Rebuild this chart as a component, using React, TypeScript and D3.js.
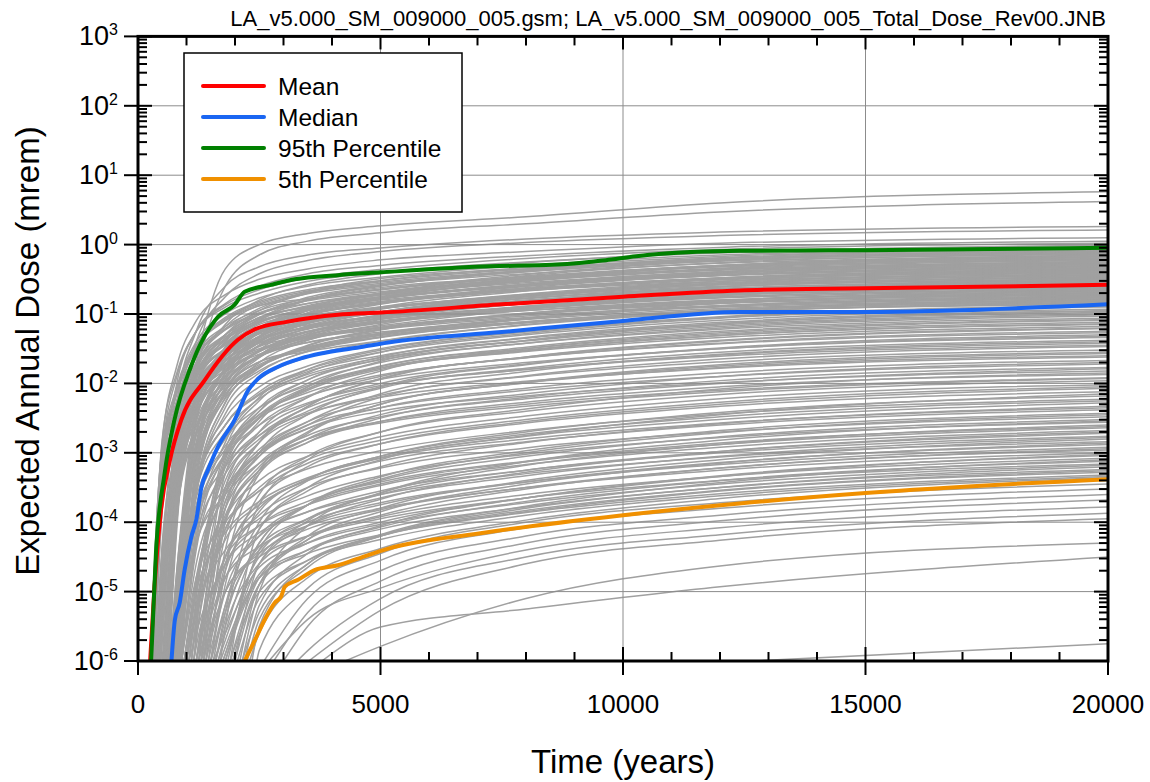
import React from "react";
import * as d3 from "d3";

const width = 1150;
const height = 782;
const plot = { left: 138, right: 1108, top: 36.4, bottom: 661 };
const font = "'Liberation Sans', Arial, sans-serif";

const titleText = "LA_v5.000_SM_009000_005.gsm; LA_v5.000_SM_009000_005_Total_Dose_Rev00.JNB";

// years at which every gray realization is read (log10 dose, mrem); first entry of a row is the onset year (1e-6)
const GRID_YEARS = [500, 800, 1200, 1800, 2500, 3500, 5000, 8000, 12000, 20000];

type Row = (number | null)[];

const grayTop: Row[] = [
  [520, null, -3.3, -1.7, -0.35, 0.0, 0.16, 0.27, 0.4, 0.6, 0.76],
  [600, null, -3.6, -1.9, -0.6, -0.15, 0.05, 0.17, 0.3, 0.47, 0.62],
  [380, -4.5, -2.3, -1.25, -0.6, -0.32, -0.15, -0.05, 0.08, 0.18, 0.26],
  [450, -5.3, -2.5, -1.4, -0.75, -0.42, -0.23, -0.1, 0.03, 0.13, 0.21],
  [260, -2.85, -1.75, -1.1, -0.72, -0.5, -0.35, -0.22, -0.1, 0.02, 0.1],
  [330, -3.5, -2.0, -1.25, -0.85, -0.6, -0.42, -0.3, -0.16, -0.04, 0.05],
  [280, -3.0, -1.9, -1.25, -0.87, -0.65, -0.48, -0.36, -0.2, -0.07, 0.02],
  [600, null, -3.4, -1.85, -1.15, -0.8, -0.58, -0.42, -0.26, -0.11, -0.01],
  [250, -2.8, -1.85, -1.25, -0.9, -0.7, -0.53, -0.4, -0.25, -0.12, -0.03],
];

const grayUpper: Row[] = [
  [270, -3.0, -2.05, -1.4, -1.0, -0.77, -0.6, -0.47, -0.3, -0.15, -0.05],
  [540, null, -3.3, -1.95, -1.3, -0.95, -0.7, -0.52, -0.33, -0.17, -0.06],
  [650, null, -4.7, -2.37, -1.47, -1.07, -0.79, -0.59, -0.37, -0.19, -0.07],
  [400, -4.9, -2.7, -1.7, -1.18, -0.88, -0.78, -0.65, -0.43, -0.23, -0.08],
  [690, null, -5.0, -2.4, -1.5, -1.1, -0.8, -0.6, -0.38, -0.2, -0.09],
  [300, -3.2, -2.1, -1.45, -1.05, -0.82, -0.65, -0.52, -0.35, -0.2, -0.1],
  [500, null, -3.2, -2.01, -1.36, -1.01, -0.76, -0.59, -0.39, -0.23, -0.11],
  [450, -5.4, -2.8, -1.75, -1.22, -0.92, -0.68, -0.49, -0.35, -0.22, -0.12],
  [290, -3.1, -2.12, -1.47, -1.07, -0.84, -0.67, -0.54, -0.37, -0.22, -0.12],
  [820, null, null, -2.9, -1.75, -1.25, -0.92, -0.7, -0.45, -0.26, -0.13],
  [320, -3.4, -2.14, -1.49, -1.09, -0.86, -0.69, -0.56, -0.39, -0.24, -0.14],
  [580, null, -3.6, -2.05, -1.4, -1.05, -0.9, -0.75, -0.51, -0.31, -0.15],
  [260, -3.0, -2.15, -1.5, -1.1, -0.88, -0.71, -0.58, -0.42, -0.27, -0.16],
  [790, null, null, -2.97, -1.77, -1.27, -0.95, -0.72, -0.49, -0.3, -0.17],
  [720, null, -5.3, -2.5, -1.6, -1.2, -0.9, -0.7, -0.48, -0.3, -0.18],
  [380, -4.6, -2.8, -1.8, -1.3, -1.0, -0.8, -0.64, -0.46, -0.3, -0.19],
  [470, -5.7, -2.8, -1.8, -1.3, -1.0, -0.85, -0.72, -0.5, -0.32, -0.2],
  [860, null, null, -3.1, -1.85, -1.32, -0.98, -0.77, -0.52, -0.34, -0.21],
  [310, -3.3, -2.25, -1.58, -1.18, -0.95, -0.78, -0.65, -0.47, -0.32, -0.22],
  [760, null, -5.8, -2.53, -1.63, -1.23, -0.95, -0.75, -0.53, -0.35, -0.23],
  [520, null, -3.4, -2.15, -1.5, -1.15, -1.0, -0.84, -0.6, -0.4, -0.24],
  [430, -5.2, -2.85, -1.85, -1.35, -1.05, -0.85, -0.7, -0.52, -0.37, -0.25],
  [250, -2.9, -2.26, -1.61, -1.21, -0.98, -0.81, -0.68, -0.51, -0.36, -0.26],
  [660, null, -4.8, -2.55, -1.67, -1.27, -0.99, -0.79, -0.57, -0.39, -0.27],
  [280, -3.2, -2.3, -1.63, -1.23, -1.0, -0.8, -0.62, -0.48, -0.36, -0.28],
  [430, -5.1, -2.88, -1.88, -1.38, -1.08, -0.88, -0.73, -0.55, -0.39, -0.28],
  [640, null, -4.1, -2.19, -1.54, -1.19, -0.94, -0.77, -0.57, -0.41, -0.29],
  [600, null, -3.7, -2.2, -1.55, -1.2, -0.95, -0.78, -0.58, -0.42, -0.3],
  [800, null, null, -3.0, -1.9, -1.4, -1.08, -0.86, -0.62, -0.44, -0.31],
  [400, -4.9, -2.92, -1.92, -1.42, -1.12, -0.92, -0.77, -0.59, -0.43, -0.32],
  [360, -4.3, -2.9, -1.9, -1.42, -1.13, -0.93, -0.78, -0.6, -0.44, -0.33],
  [330, -3.6, -2.35, -1.7, -1.3, -1.06, -0.9, -0.76, -0.59, -0.45, -0.34],
  [900, null, null, -3.3, -1.95, -1.45, -1.13, -0.9, -0.67, -0.48, -0.35],
  [740, null, -5.5, -2.7, -1.78, -1.37, -1.19, -1.01, -0.74, -0.53, -0.36],
  [530, null, -3.4, -2.26, -1.61, -1.26, -1.01, -0.84, -0.64, -0.48, -0.36],
  [560, null, -3.5, -2.27, -1.62, -1.27, -1.02, -0.85, -0.65, -0.49, -0.37],
  [280, -3.2, -2.38, -1.73, -1.33, -1.1, -0.93, -0.8, -0.63, -0.48, -0.38],
  [470, -5.7, -3.05, -2.0, -1.5, -1.2, -1.0, -0.85, -0.66, -0.51, -0.39],
  [290, -3.4, -2.42, -1.76, -1.36, -1.12, -0.95, -0.82, -0.65, -0.5, -0.4],
  [700, null, -5.1, -2.71, -1.81, -1.41, -1.13, -0.93, -0.71, -0.53, -0.41],
  [870, null, null, -3.2, -2.05, -1.52, -1.2, -0.97, -0.74, -0.55, -0.42],
  [510, null, -3.5, -2.33, -1.68, -1.33, -1.0, -0.83, -0.66, -0.53, -0.43],
  [580, null, -3.7, -2.34, -1.69, -1.34, -1.09, -0.92, -0.72, -0.56, -0.44],
  [680, null, -4.9, -2.75, -1.85, -1.45, -1.17, -0.97, -0.75, -0.57, -0.45],
  [410, -5.1, -3.06, -2.06, -1.56, -1.26, -1.16, -1.03, -0.81, -0.61, -0.46],
  [360, -4.4, -3.07, -2.07, -1.57, -1.27, -1.07, -0.92, -0.74, -0.58, -0.47],
  [320, -3.6, -2.5, -1.83, -1.43, -1.2, -1.03, -0.9, -0.73, -0.58, -0.48],
  [620, null, -4.0, -2.39, -1.74, -1.39, -1.14, -0.97, -0.77, -0.61, -0.49],
  [340, -3.8, -2.5, -1.85, -1.45, -1.22, -1.05, -0.92, -0.75, -0.6, -0.5],
  [840, null, null, -3.3, -2.1, -1.6, -1.28, -1.05, -0.82, -0.64, -0.51],
  [440, -5.4, -3.1, -2.12, -1.62, -1.32, -1.12, -0.97, -0.78, -0.63, -0.52],
  [860, null, null, -3.4, -2.13, -1.63, -1.31, -1.08, -0.85, -0.66, -0.53],
  [700, null, -5.1, -2.84, -1.94, -1.54, -1.26, -1.06, -0.84, -0.66, -0.54],
  [270, -3.2, -2.55, -1.9, -1.5, -1.27, -1.1, -0.97, -0.8, -0.65, -0.55],
  [520, null, -3.4, -2.46, -1.81, -1.46, -1.21, -1.04, -0.84, -0.68, -0.56],
  [590, null, -3.8, -2.47, -1.82, -1.47, -1.32, -1.17, -0.93, -0.73, -0.57],
  [300, -3.5, -2.57, -1.92, -1.52, -1.29, -1.12, -0.99, -0.82, -0.67, -0.57],
  [390, -4.8, -3.18, -2.18, -1.68, -1.38, -1.18, -1.03, -0.85, -0.69, -0.58],
  [650, null, -4.7, -2.89, -1.99, -1.59, -1.31, -1.11, -0.89, -0.71, -0.59],
  [810, null, null, -3.3, -2.2, -1.7, -1.38, -1.15, -0.92, -0.73, -0.6],
  [750, null, -5.7, -2.91, -2.01, -1.61, -1.33, -1.13, -0.91, -0.73, -0.61],
  [450, -5.4, -3.22, -2.22, -1.72, -1.42, -1.22, -1.07, -0.89, -0.73, -0.62],
  [300, -3.4, -2.63, -1.98, -1.58, -1.35, -1.12, -0.97, -0.83, -0.71, -0.63],
  [530, null, -3.5, -2.54, -1.89, -1.54, -1.29, -1.12, -0.92, -0.76, -0.64],
  [260, -3.0, -2.65, -2.0, -1.6, -1.37, -1.2, -1.07, -0.9, -0.75, -0.65],
  [460, -5.6, -3.26, -2.26, -1.76, -1.46, -1.26, -1.11, -0.93, -0.77, -0.66],
  [850, null, null, -3.5, -2.27, -1.77, -1.45, -1.22, -0.99, -0.8, -0.67],
  [820, null, null, -3.5, -2.28, -1.78, -1.46, -1.23, -1.0, -0.81, -0.68],
  [670, null, -4.8, -2.99, -2.09, -1.69, -1.51, -1.33, -1.07, -0.85, -0.69],
  [340, -3.8, -2.7, -2.05, -1.65, -1.42, -1.25, -1.12, -0.95, -0.8, -0.7],
  [600, null, -3.9, -2.61, -1.96, -1.61, -1.36, -1.19, -0.99, -0.83, -0.71],
  [570, null, -3.7, -2.62, -1.97, -1.62, -1.37, -1.2, -1.0, -0.84, -0.72],
  [420, -5.2, -3.33, -2.33, -1.83, -1.53, -1.25, -1.1, -0.95, -0.82, -0.73],
  [380, -4.6, -3.34, -2.34, -1.84, -1.54, -1.34, -1.19, -1.01, -0.85, -0.74],
  [880, null, null, -3.6, -2.35, -1.85, -1.53, -1.3, -1.07, -0.88, -0.75],
  [710, null, -5.2, -3.06, -2.16, -1.76, -1.48, -1.28, -1.06, -0.88, -0.76],
  [690, null, -5.0, -3.07, -2.17, -1.77, -1.49, -1.29, -1.07, -0.89, -0.77],
  [310, -3.6, -2.78, -2.13, -1.73, -1.5, -1.33, -1.2, -1.03, -0.88, -0.78],
  [610, null, -3.9, -2.69, -2.04, -1.69, -1.54, -1.39, -1.15, -0.95, -0.79],
  [330, -3.7, -2.8, -2.15, -1.75, -1.52, -1.35, -1.22, -1.05, -0.9, -0.8],
  [370, -4.5, -3.41, -2.41, -1.91, -1.61, -1.41, -1.26, -1.08, -0.92, -0.81],
  [730, null, -5.4, -3.12, -2.22, -1.82, -1.54, -1.34, -1.12, -0.94, -0.82],
  [540, null, -3.5, -2.73, -2.08, -1.73, -1.48, -1.31, -1.11, -0.95, -0.83],
  [830, null, null, -3.6, -2.44, -1.94, -1.62, -1.39, -1.16, -0.97, -0.84],
  [550, null, -3.6, -2.75, -2.1, -1.75, -1.5, -1.33, -1.13, -0.97, -0.85],
  [290, -3.5, -2.86, -2.21, -1.81, -1.58, -1.41, -1.28, -1.11, -0.96, -0.86],
];

const grayMiddle: Row[] = [
  [640, null, -5.2, -3.4, -2.5, -2.05, -1.75, -1.5, -1.25, -1.04, -0.88],
  [900, null, null, -4.2, -2.85, -2.2, -1.8, -1.52, -1.26, -1.05, -0.89],
  [950, null, null, -4.9, -2.95, -2.25, -1.85, -1.55, -1.28, -1.06, -0.9],
  [760, null, -5.6, -3.5, -2.6, -2.12, -1.8, -1.55, -1.3, -1.09, -0.93],
  [1150, null, null, -5.6, -3.1, -2.4, -1.95, -1.62, -1.34, -1.12, -0.95],
  [1250, null, null, null, -3.3, -2.55, -2.05, -1.68, -1.38, -1.14, -0.96],
  [680, null, -5.4, -3.45, -2.6, -2.15, -1.83, -1.6, -1.35, -1.14, -0.98],
  [880, null, null, -4.3, -3.0, -2.35, -1.95, -1.65, -1.38, -1.16, -1.0],
  [700, null, -5.4, -3.45, -2.6, -2.17, -1.87, -1.63, -1.39, -1.18, -1.01],
  [1050, null, null, -5.1, -3.05, -2.4, -2.0, -1.7, -1.42, -1.2, -1.03],
  [720, null, -5.5, -3.55, -2.7, -2.22, -1.9, -1.66, -1.42, -1.22, -1.06],
  [1100, null, null, -5.4, -3.2, -2.5, -2.08, -1.76, -1.48, -1.25, -1.08],
  [1300, null, null, null, -3.5, -2.7, -2.2, -1.82, -1.5, -1.27, -1.09],
  [820, null, null, -4.0, -3.0, -2.45, -2.05, -1.75, -1.5, -1.29, -1.12],
  [850, null, null, -4.1, -3.05, -2.48, -2.08, -1.78, -1.52, -1.31, -1.14],
  [980, null, null, -5.0, -3.15, -2.5, -2.1, -1.8, -1.53, -1.31, -1.15],
  [620, null, -5.0, -3.65, -2.8, -2.35, -2.03, -1.78, -1.54, -1.34, -1.18],
  [1350, null, null, null, -3.8, -2.85, -2.33, -1.94, -1.62, -1.38, -1.2],
  [1200, null, null, null, -3.6, -2.85, -2.33, -1.93, -1.62, -1.39, -1.21],
  [900, null, null, -4.4, -3.2, -2.6, -2.2, -1.9, -1.63, -1.42, -1.25],
  [650, null, -5.2, -3.75, -2.9, -2.45, -2.13, -1.88, -1.63, -1.43, -1.27],
  [1400, null, null, null, -4.0, -3.0, -2.45, -2.05, -1.73, -1.49, -1.3],
  [1000, null, null, -4.9, -3.3, -2.7, -2.3, -2.0, -1.72, -1.5, -1.32],
  [750, null, -5.7, -3.8, -2.95, -2.5, -2.18, -1.94, -1.7, -1.5, -1.34],
  [1100, null, null, -5.5, -3.4, -2.8, -2.4, -2.07, -1.78, -1.55, -1.38],
  [1200, null, null, null, -3.7, -3.0, -2.55, -2.15, -1.83, -1.58, -1.4],
  [850, null, null, -4.2, -3.3, -2.75, -2.35, -2.05, -1.8, -1.59, -1.42],
  [780, null, -5.9, -3.9, -3.05, -2.6, -2.28, -2.03, -1.8, -1.61, -1.45],
  [1250, null, null, null, -3.8, -3.05, -2.6, -2.2, -1.89, -1.65, -1.47],
  [1000, null, null, -5.0, -3.5, -2.85, -2.45, -2.17, -1.9, -1.69, -1.52],
  [1500, null, null, null, -4.7, -3.3, -2.72, -2.3, -1.98, -1.73, -1.55],
  [1450, null, null, null, -4.4, -3.25, -2.7, -2.3, -1.99, -1.75, -1.57],
  [900, null, null, -4.6, -3.55, -2.95, -2.55, -2.27, -1.99, -1.77, -1.6],
  [700, null, -5.4, -4.0, -3.2, -2.75, -2.43, -2.2, -1.97, -1.78, -1.62],
  [1150, null, null, -5.7, -3.7, -3.05, -2.65, -2.35, -2.07, -1.85, -1.67],
  [1300, null, null, null, -4.0, -3.25, -2.8, -2.45, -2.15, -1.9, -1.7],
  [950, null, null, -4.8, -3.6, -3.0, -2.6, -2.35, -2.1, -1.9, -1.72],
  [1350, null, null, null, -4.2, -3.3, -2.85, -2.5, -2.2, -1.96, -1.77],
  [1050, null, null, -5.2, -3.8, -3.15, -2.75, -2.48, -2.22, -2.0, -1.79],
  [800, null, null, -4.3, -3.5, -3.0, -2.65, -2.4, -2.18, -1.99, -1.82],
  [1600, null, null, null, -5.3, -3.75, -3.1, -2.7, -2.37, -2.08, -1.85],
  [1200, null, null, null, -3.95, -3.25, -2.85, -2.55, -2.27, -2.05, -1.87],
  [1050, null, null, -5.3, -3.9, -3.2, -2.8, -2.55, -2.3, -2.1, -1.92],
  [750, null, -5.7, -4.3, -3.6, -3.15, -2.8, -2.57, -2.33, -2.12, -1.93],
  [1500, null, null, null, -4.9, -3.6, -3.05, -2.7, -2.4, -2.16, -1.96],
];

const grayLower: Row[] = [
  [1000, null, null, -5.2, -3.95, -3.4, -3.05, -2.77, -2.47, -2.22, -2.02],
  [1200, null, null, null, -4.1, -3.5, -3.1, -2.82, -2.52, -2.27, -2.05],
  [1400, null, null, null, -4.6, -3.7, -3.2, -2.87, -2.55, -2.3, -2.07],
  [1150, null, null, -5.7, -4.1, -3.55, -3.15, -2.87, -2.57, -2.33, -2.12],
  [1900, null, null, null, null, -4.1, -3.5, -3.1, -2.75, -2.45, -2.15],
  [1700, null, null, null, -5.5, -4.0, -3.4, -3.05, -2.7, -2.42, -2.18],
  [900, null, null, -4.8, -4.0, -3.55, -3.23, -2.97, -2.68, -2.44, -2.23],
  [1350, null, null, null, -4.7, -3.85, -3.38, -3.05, -2.73, -2.48, -2.25],
  [1300, null, null, null, -4.5, -3.8, -3.38, -3.07, -2.76, -2.52, -2.28],
  [1550, null, null, null, -5.2, -4.1, -3.55, -3.2, -2.85, -2.58, -2.33],
  [950, null, null, -5.0, -4.15, -3.7, -3.36, -3.08, -2.8, -2.57, -2.35],
  [1100, null, null, -5.4, -4.25, -3.75, -3.4, -3.12, -2.84, -2.6, -2.38],
  [1850, null, null, null, null, -4.4, -3.75, -3.35, -2.97, -2.68, -2.43],
  [1650, null, null, null, -5.6, -4.3, -3.75, -3.38, -3.0, -2.71, -2.45],
  [1250, null, null, null, -4.5, -3.9, -3.5, -3.22, -2.93, -2.7, -2.48],
  [1600, null, null, null, -5.4, -4.3, -3.75, -3.4, -3.05, -2.77, -2.52],
  [2150, null, null, null, null, -5.0, -4.05, -3.58, -3.13, -2.82, -2.54],
  [1000, null, null, -5.3, -4.4, -3.95, -3.62, -3.33, -3.02, -2.78, -2.56],
  [2000, null, null, null, null, -4.6, -3.98, -3.58, -3.18, -2.88, -2.6],
  [1150, null, null, -5.8, -4.6, -4.05, -3.7, -3.42, -3.12, -2.86, -2.62],
  [1450, null, null, null, -5.0, -4.2, -3.75, -3.45, -3.13, -2.88, -2.64],
  [1200, null, null, null, -4.5, -4.05, -3.75, -3.47, -3.17, -2.92, -2.68],
  [1800, null, null, null, null, -4.6, -4.05, -3.67, -3.28, -2.98, -2.7],
  [1750, null, null, null, -5.9, -4.45, -3.95, -3.6, -3.25, -2.98, -2.72],
  [1350, null, null, null, -4.8, -4.2, -3.85, -3.55, -3.25, -3.0, -2.76],
  [1500, null, null, null, -5.3, -4.35, -3.95, -3.65, -3.33, -3.05, -2.78],
  [2100, null, null, null, null, -4.9, -4.2, -3.8, -3.4, -3.1, -2.8],
  [1050, null, null, -5.6, -4.6, -4.15, -3.85, -3.6, -3.3, -3.06, -2.84],
  [2000, null, null, null, null, -4.9, -4.25, -3.85, -3.45, -3.15, -2.86],
  [1650, null, null, null, -5.7, -4.5, -4.05, -3.75, -3.42, -3.14, -2.88],
  [1500, null, null, null, -5.2, -4.4, -4.0, -3.72, -3.42, -3.17, -2.92],
  [1300, null, null, null, -5.0, -4.45, -4.1, -3.82, -3.5, -3.22, -2.94],
  [1900, null, null, null, null, -4.8, -4.25, -3.9, -3.52, -3.22, -2.96],
  [1250, null, null, null, -4.8, -4.35, -4.05, -3.8, -3.5, -3.25, -3.0],
  [1750, null, null, null, -5.9, -4.75, -4.3, -4.0, -3.65, -3.34, -3.02],
  [2200, null, null, null, null, -5.2, -4.45, -4.05, -3.65, -3.33, -3.04],
  [1600, null, null, null, -5.5, -4.6, -4.2, -3.92, -3.6, -3.34, -3.08],
  [2350, null, null, null, null, -5.5, -4.6, -4.18, -3.77, -3.43, -3.1],
  [1950, null, null, null, null, -4.9, -4.4, -4.07, -3.7, -3.4, -3.12],
  [1400, null, null, null, -5.0, -4.5, -4.2, -3.95, -3.65, -3.4, -3.16],
  [1550, null, null, null, -5.6, -4.65, -4.3, -4.03, -3.72, -3.45, -3.18],
  [2250, null, null, null, null, -5.4, -4.65, -4.2, -3.8, -3.5, -3.2],
  [1800, null, null, null, null, -4.8, -4.4, -4.1, -3.78, -3.5, -3.24],
  [2150, null, null, null, null, -5.3, -4.6, -4.2, -3.83, -3.54, -3.26],
  [2050, null, null, null, null, -5.1, -4.55, -4.2, -3.85, -3.55, -3.28],
  [1700, null, null, null, -5.8, -4.8, -4.45, -4.18, -3.86, -3.59, -3.32],
  [1900, null, null, null, null, -5.0, -4.55, -4.25, -3.9, -3.62, -3.34],
  [2300, null, null, null, null, -5.6, -4.8, -4.38, -3.97, -3.66, -3.36],
];

const grayBottom: Row[] = [
  [2450, null, null, null, null, -5.85, -4.95, -4.45, -4.0, -3.72, -3.45],
  [2600, null, null, null, null, null, -5.1, -4.55, -4.08, -3.8, -3.52],
  [2800, null, null, null, null, null, -5.3, -4.7, -4.2, -3.9, -3.6],
  [3000, null, null, null, null, null, -5.5, -4.85, -4.3, -3.98, -3.68],
  [2700, null, null, null, null, null, -5.4, -4.95, -4.4, -4.08, -3.78],
  [3280, null, null, null, null, null, -5.85, -5.1, -4.5, -4.18, -3.87],
  [3520, null, null, null, null, null, null, -5.27, -4.6, -4.26, -3.95],
  [3790, null, null, null, null, null, null, -5.51, -5.25, -4.93, -4.5],
  [4270, null, null, null, null, null, null, -5.79, -5.1, -4.63, -4.3],
  [12700, null, null, null, null, null, null, null, null, null, -5.75],
];

// statistics: [year, log10 dose]
const meanCurve: [number, number][] = [
  [250, -6], [340, -4.93], [475, -3.82], [660, -3.1], [890, -2.53], [1380, -1.95], [2060, -1.37],
  [2410, -1.22], [3090, -1.11], [4120, -1.01], [5000, -0.98], [7500, -0.86], [10000, -0.75],
  [12400, -0.66], [15000, -0.63], [20000, -0.58],
];
const medianCurve: [number, number][] = [
  [690, -6], [760, -5.41], [860, -5.16], [960, -4.69], [1100, -4.21], [1200, -3.97], [1310, -3.49],
  [1440, -3.25], [1650, -2.91], [1990, -2.53], [2270, -2.1], [2480, -1.93], [2890, -1.76],
  [3360, -1.64], [3770, -1.57], [4470, -1.49], [5160, -1.41], [7500, -1.26], [10000, -1.1],
  [12400, -0.97], [15000, -0.97], [20000, -0.86],
];
const p95Curve: [number, number][] = [
  [270, -6], [370, -4.44], [550, -3.29], [750, -2.53], [1090, -1.76], [1650, -1.04], [1990, -0.87],
  [2200, -0.68], [2740, -0.58], [3230, -0.5], [4120, -0.44], [5000, -0.4], [6970, -0.32],
  [8850, -0.28], [9800, -0.21], [10500, -0.15], [12400, -0.09], [15000, -0.08], [20000, -0.045],
];
const p05Curve: [number, number][] = [
  [2200, -6], [2410, -5.7], [2610, -5.41], [2820, -5.16], [2950, -5.07], [3030, -4.93], [3300, -4.83],
  [3640, -4.69], [4120, -4.62], [4470, -4.54], [5160, -4.38], [7060, -4.16], [10000, -3.9],
  [12400, -3.73], [15000, -3.58], [20000, -3.38],
];

const statSeries = [
  { label: "Mean", color: "#ff0000", data: meanCurve },
  { label: "Median", color: "#1a66f2", data: medianCurve },
  { label: "95th Percentile", color: "#008000", data: p95Curve },
  { label: "5th Percentile", color: "#f09000", data: p05Curve },
];

const xMajorTicks = [0, 5000, 10000, 15000, 20000];
const yExponents = [-6, -5, -4, -3, -2, -1, 0, 1, 2, 3];

export default function App() {
  const x = d3.scaleLinear().domain([0, 20000]).range([plot.left, plot.right]);
  const y = d3.scaleLog().domain([1e-6, 1e3]).range([plot.bottom, plot.top]);

  const line = d3
    .line<[number, number]>()
    .x(d => x(d[0]))
    .y(d => y(Math.pow(10, d[1])))
    .curve(d3.curveMonotoneX);

  const toPoints = (row: Row): [number, number][] => {
    const t0 = row[0] as number;
    const pts: [number, number][] = [[t0, -6]];
    row.slice(1).forEach((v, i) => {
      if (v !== null && GRID_YEARS[i] > t0) pts.push([GRID_YEARS[i], v]);
    });
    return pts;
  };

  const grayRows = [...grayTop, ...grayUpper, ...grayMiddle, ...grayLower, ...grayBottom];

  const xMinor = x.ticks(20).filter(t => !xMajorTicks.includes(t));
  const isDecade = (v: number) => Math.abs(Math.log10(v) - Math.round(Math.log10(v))) < 1e-9;
  const yMinor = y.ticks().filter(v => !isDecade(v));

  return (
    <svg
      width={width}
      height={height}
      style={{ position: "absolute", left: 0, top: 0, background: "#fff" }}
      fontFamily={font}
    >
      <defs>
        <clipPath id="plot-clip">
          <rect x={plot.left} y={plot.top} width={plot.right - plot.left} height={plot.bottom - plot.top} />
        </clipPath>
      </defs>

      <text x={1106} y={26} textAnchor="end" fontSize={22}>{titleText}</text>

      <g clipPath="url(#plot-clip)">
        {grayRows.map((row, i) => (
          <path key={i} d={line(toPoints(row)) || ""} fill="none" stroke="#a0a0a0" strokeWidth={1.5} />
        ))}

        {xMajorTicks.slice(1, -1).map(t => (
          <line key={"gx" + t} x1={x(t)} x2={x(t)} y1={plot.top} y2={plot.bottom} stroke="#8c8c8c" strokeWidth={1} />
        ))}
        {yExponents.slice(1, -1).map(e => (
          <line key={"gy" + e} x1={plot.left} x2={plot.right} y1={y(Math.pow(10, e))} y2={y(Math.pow(10, e))} stroke="#8c8c8c" strokeWidth={1} />
        ))}

        {statSeries.map(s => (
          <path key={s.label} d={line(s.data) || ""} fill="none" stroke={s.color} strokeWidth={4} strokeLinejoin="round" strokeLinecap="round" />
        ))}
      </g>

      {/* ticks */}
      <g stroke="#000" strokeWidth={2}>
        {xMinor.map(t => (
          <g key={"xm" + t}>
            <line x1={x(t)} x2={x(t)} y1={plot.bottom} y2={plot.bottom - 9} />
            <line x1={x(t)} x2={x(t)} y1={plot.top} y2={plot.top + 9} />
          </g>
        ))}
        {xMajorTicks.map(t => (
          <g key={"xM" + t}>
            <line x1={x(t)} x2={x(t)} y1={plot.bottom - 14} y2={plot.bottom + 14} />
            <line x1={x(t)} x2={x(t)} y1={plot.top} y2={plot.top + 13} />
          </g>
        ))}
        {yMinor.map(v => (
          <g key={"ym" + v}>
            <line x1={plot.left} x2={plot.left + 9} y1={y(v)} y2={y(v)} />
            <line x1={plot.right} x2={plot.right - 9} y1={y(v)} y2={y(v)} />
          </g>
        ))}
        {yExponents.map(e => (
          <g key={"yM" + e}>
            <line x1={plot.left - 14} x2={plot.left + 14} y1={y(Math.pow(10, e))} y2={y(Math.pow(10, e))} />
            <line x1={plot.right} x2={plot.right - 14} y1={y(Math.pow(10, e))} y2={y(Math.pow(10, e))} />
          </g>
        ))}
      </g>

      <rect
        x={plot.left}
        y={plot.top}
        width={plot.right - plot.left}
        height={plot.bottom - plot.top}
        fill="none"
        stroke="#000"
        strokeWidth={3}
      />

      {/* tick labels */}
      {xMajorTicks.map(t => (
        <text key={"xl" + t} x={x(t)} y={713} textAnchor="middle" fontSize={26}>{t}</text>
      ))}
      {yExponents.map(e => (
        <text key={"yl" + e} x={118} y={y(Math.pow(10, e)) + 9} textAnchor="end" fontSize={27}>
          10<tspan dy={-10} fontSize={16}>{e}</tspan>
        </text>
      ))}

      <text x={(plot.left + plot.right) / 2} y={773} textAnchor="middle" fontSize={33}>Time (years)</text>
      <text transform="translate(39,351) rotate(-90)" textAnchor="middle" fontSize={33}>Expected Annual Dose (mrem)</text>

      {/* legend */}
      <rect x={184} y={53} width={278} height={159} fill="#fff" stroke="#000" strokeWidth={1.5} />
      {statSeries.map((s, i) => {
        const ly = 86 + i * 31;
        return (
          <g key={"lg" + s.label}>
            <line x1={203} x2={264} y1={ly} y2={ly} stroke={s.color} strokeWidth={4} strokeLinecap="round" />
            <text x={278} y={ly + 8.5} fontSize={24.5}>{s.label}</text>
          </g>
        );
      })}
    </svg>
  );
}
